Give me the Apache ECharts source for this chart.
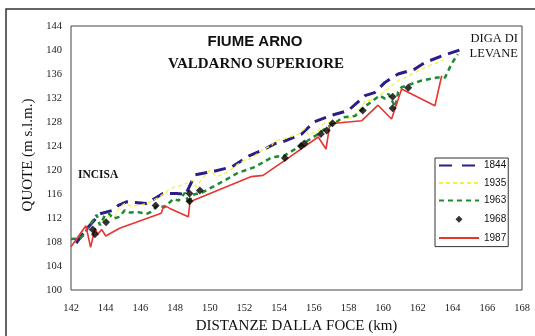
<!DOCTYPE html>
<html>
<head>
<meta charset="utf-8">
<script src="https://cdn.jsdelivr.net/npm/echarts@6/dist/echarts.min.js"></script>
<style>
  html, body { margin: 0; padding: 0; background: #fff; }
  #chart { width: 535px; height: 336px; }
</style>
</head>
<body>
<div id="chart"></div>
<script>
// Longitudinal profile of the Arno riverbed, Valdarno Superiore (Incisa - Levane)
var xTicks = [142, 144, 146, 148, 150, 152, 154, 156, 158, 160, 162, 164, 166, 168];
var yTicks = [100, 104, 108, 112, 116, 120, 124, 128, 132, 136, 140, 144];

var km1844 = [142.3, 142.9, 143.67, 144.44, 144.73, 145.2, 146.36, 147.3, 148.1, 148.6, 149.15, 150.1, 151.26, 152.3, 153.18, 153.76, 154.14, 155.3, 156.0, 157.0, 157.98, 158.95, 159.5, 160.1, 160.86, 161.8, 162.4, 163.37, 164.42];
var q1844  = [107.8, 110.2, 112.7, 113.3, 114.1, 114.7, 114.4, 116.1, 116.1, 115.9, 119.2, 119.7, 120.5, 122.4, 123.5, 124.4, 124.6, 126.0, 128.0, 129.1, 129.9, 132.4, 132.9, 134.6, 136.0, 136.8, 137.9, 139.0, 140.0];

var km1935 = [143.8, 144.15, 144.5, 144.8, 145.1, 145.5, 146.36, 146.9, 147.5, 147.7, 148.3, 148.6, 149.05, 149.2, 149.72, 150.0, 150.4, 151.0, 151.64, 151.9, 152.4, 152.99, 153.57, 153.76, 154.3, 155.1, 155.5, 155.7, 156.25, 156.6, 157.0, 157.7, 158.37, 158.95, 159.5, 160.48, 160.86, 161.25, 162.4, 163.46];
var q1935  = [111.5, 112.2, 112.0, 113.8, 114.4, 113.9, 114.4, 115.2, 116.3, 116.9, 117.4, 117.7, 118.3, 117.2, 119.1, 120.0, 118.9, 119.6, 121.0, 121.5, 121.9, 123.3, 124.1, 124.9, 125.2, 126.0, 126.9, 125.8, 126.6, 127.8, 127.9, 128.0, 129.1, 131.4, 131.8, 134.0, 134.9, 135.4, 137.1, 138.3];

var km1963 = [142.0, 142.5, 142.75, 143.0, 143.48, 143.67, 143.96, 144.2, 144.44, 144.8, 145.1, 145.4, 145.8, 146.36, 146.6, 147.0, 147.4, 147.9, 148.2, 148.57, 148.8, 148.96, 149.6, 150.3, 151.07, 151.6, 152.5, 152.9, 153.57, 154.3, 155.1, 155.7, 156.25, 156.7, 157.3, 157.7, 158.37, 158.95, 159.8, 160.1, 160.3, 160.7, 160.86, 161.06, 162.2, 163.1, 163.56, 163.94, 164.3];
var q1963  = [108.5, 108.6, 109.2, 110.5, 112.5, 110.8, 112.5, 112.7, 111.9, 112.2, 113.3, 112.9, 113.0, 112.7, 113.0, 114.1, 113.8, 115.2, 114.9, 116.2, 114.3, 115.8, 116.3, 117.4, 118.6, 119.5, 120.4, 121.0, 122.1, 122.4, 123.8, 125.0, 126.0, 127.0, 128.0, 128.8, 129.0, 130.6, 132.4, 131.9, 132.7, 130.5, 133.0, 133.8, 134.9, 135.4, 135.4, 137.7, 139.3];

var km1968 = [143.25, 143.38, 144.02, 146.88, 148.83, 148.83, 149.43, 154.33, 155.26, 155.45, 156.4, 156.74, 157.08, 158.82, 160.54, 160.54, 161.44];
var q1968  = [110.1, 109.3, 111.3, 114.1, 116.1, 114.8, 116.6, 122.0, 124.0, 124.4, 126.0, 126.6, 127.8, 129.9, 132.2, 130.3, 133.7];

var km1987 = [142.0, 142.86, 143.13, 143.38, 143.54, 143.77, 144.0, 144.8, 147.2, 147.36, 147.7, 148.76, 148.86, 152.4, 153.07, 154.33, 156.25, 156.7, 156.93, 158.75, 159.7, 160.48, 161.06, 162.98, 163.37];
var q1987  = [107.2, 110.7, 107.1, 110.3, 109.3, 110.1, 109.0, 110.3, 112.8, 114.1, 113.6, 112.2, 114.7, 118.9, 119.1, 121.6, 125.5, 123.5, 127.7, 128.2, 130.8, 128.5, 133.5, 130.7, 135.7];

function pairs(xs, ys) {
  return xs.map(function (x, i) { return [x, ys[i]]; });
}

var serif = 'Liberation Serif, Times New Roman, serif';
var sans = 'Liberation Sans, Arial, sans-serif';

function profile(name, xs, ys, color, width, dash, z) {
  return {
    name: name,
    type: 'line',
    data: pairs(xs, ys),
    symbol: 'none',
    z: z,
    animation: false,
    lineStyle: { color: color, width: width, type: dash },
    itemStyle: { color: color }
  };
}

// legend entry for a profile: line sample only, no marker
function lineKey(name, dash) {
  var key = { name: name, itemStyle: { opacity: 0 } };
  if (dash) key.lineStyle = { type: dash };
  return key;
}

var chart = echarts.init(document.getElementById('chart'), null, { renderer: 'canvas' });

chart.setOption({
  backgroundColor: '#fff',
  animation: false,
  grid: {
    left: 71, top: 26, right: 13, bottom: 46,
    outerBoundsMode: 'none',
    containLabel: false,
    show: true, borderColor: '#444', borderWidth: 1
  },
  xAxis: {
    type: 'value',
    min: xTicks[0], max: xTicks[xTicks.length - 1], interval: 2,
    name: 'DISTANZE DALLA FOCE (km)',
    nameLocation: 'middle', nameGap: 28,
    nameTextStyle: { fontFamily: serif, fontSize: 15, color: '#111' },
    axisLine: { show: false }, axisTick: { show: false }, splitLine: { show: false },
    axisLabel: { fontFamily: serif, fontSize: 10.5, color: '#222', margin: 13 }
  },
  yAxis: {
    type: 'value',
    min: yTicks[0], max: yTicks[yTicks.length - 1], interval: 4,
    name: 'QUOTE (m s.l.m.)',
    nameLocation: 'middle', nameGap: 24.5, nameRotate: 90,
    nameTextStyle: { fontFamily: serif, fontSize: 15, color: '#111', padding: [0, 0, 0, 6] },
    axisLine: { show: false }, axisTick: { show: false }, splitLine: { show: false },
    axisLabel: { fontFamily: serif, fontSize: 10.5, color: '#222', margin: 9 }
  },
  legend: {
    orient: 'vertical',
    left: 435, top: 158,
    padding: [2, 2, 3, 3],
    itemWidth: 40, itemHeight: 14, itemGap: 6.2,
    borderColor: '#333', borderWidth: 1,
    backgroundColor: '#fff',
    textStyle: { fontFamily: sans, fontSize: 10, color: '#111' },
    data: [
      lineKey('1844', [13, 10]),
      lineKey('1935'),
      lineKey('1963'),
      { name: '1968', icon: 'path://M0,0 M10,14 M5,3.5 L8.5,7 L5,10.5 L1.5,7 Z' },
      lineKey('1987')
    ]
  },
  series: [
    profile('1844', km1844, q1844, '#2b1e86', 3, [12, 7], 2),
    profile('1935', km1935, q1935, '#f2f23a', 1.2, [4, 3], 3),
    profile('1963', km1963, q1963, '#1f8a32', 2.5, [5, 4], 4),
    {
      name: '1968',
      type: 'scatter',
      data: pairs(km1968, q1968),
      symbol: 'diamond',
      symbolSize: 8,
      z: 6,
      itemStyle: { color: '#000' }
    },
    profile('1987', km1987, q1987, '#e8352f', 1.6, 'solid', 5)
  ],
  graphic: [
    // outer frame (extends past the visible canvas on the right and bottom)
    { type: 'polyline', silent: true, z: 0,
      shape: { points: [[6, 340], [6, 9], [540, 9]] },
      style: { stroke: '#333', lineWidth: 1.5, fill: null } },
    { type: 'text', silent: true, z: 10,
      style: { x: 255, y: 42, text: 'FIUME ARNO', textAlign: 'center', textVerticalAlign: 'middle',
               font: 'bold 15px ' + sans, fill: '#111' } },
    { type: 'text', silent: true, z: 10,
      style: { x: 256, y: 64, text: 'VALDARNO SUPERIORE', textAlign: 'center', textVerticalAlign: 'middle',
               font: 'bold 15px ' + serif, fill: '#111' } },
    { type: 'text', silent: true, z: 10,
      style: { x: 78, y: 175, text: 'INCISA', textAlign: 'left', textVerticalAlign: 'middle',
               font: 'bold 11.5px ' + serif, fill: '#111' } },
    { type: 'text', silent: true, z: 10,
      style: { x: 518, y: 39, text: 'DIGA DI', textAlign: 'right', textVerticalAlign: 'middle',
               font: '12.5px ' + serif, fill: '#111' } },
    { type: 'text', silent: true, z: 10,
      style: { x: 518, y: 54, text: 'LEVANE', textAlign: 'right', textVerticalAlign: 'middle',
               font: '12.5px ' + serif, fill: '#111' } }
  ]
});
</script>
</body>
</html>
